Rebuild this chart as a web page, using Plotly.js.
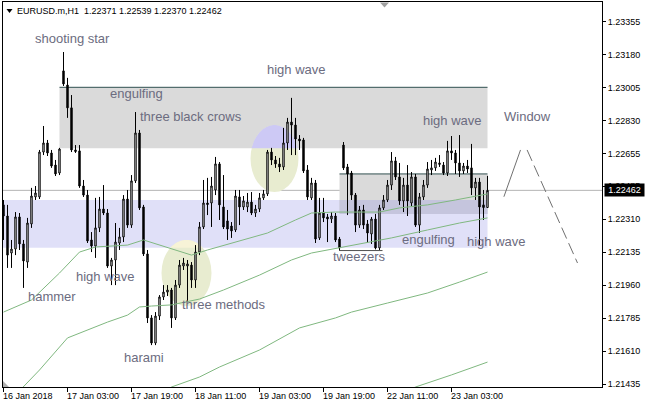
<!DOCTYPE html>
<html>
<head>
<meta charset="utf-8">
<script src="https://cdn.plot.ly/plotly-3.0.1.min.js"></script>
<style>html,body{margin:0;padding:0;background:#fff;}#chart{width:645px;height:408px;}</style>
</head>
<body>
<div id="chart"></div>
<script>
// ---- DATA (EURUSD.m, H1) ----
const symbolName = "EURUSD.m,H1";
const opens = [1.22385,1.22326,1.22130,1.22151,1.22321,1.22178,1.22082,1.22284,1.22427,1.22427,
1.22665,1.22713,1.22660,1.22596,1.22554,1.23095,1.23020,1.22899,1.22676,1.22671,
1.22485,1.22437,1.22199,1.22167,1.22263,1.22363,1.22342,1.22061,1.22093,1.22183,
1.22215,1.22416,1.22278,1.22512,1.22766,1.22374,1.22125,1.21786,1.21653,1.21796,
1.21897,1.21923,1.21934,1.21786,1.21960,1.22061,1.22061,1.22066,1.21987,1.22135,
1.22268,1.22395,1.22395,1.22464,1.22602,1.22374,1.22300,1.22273,1.22252,1.22427,
1.22374,1.22374,1.22400,1.22342,1.22363,1.22422,1.22443,1.22665,1.22623,1.22602,
1.22586,1.22713,1.22824,1.22808,1.22734,1.22729,1.22570,1.22422,1.22501,1.22210,
1.22347,1.22321,1.22310,1.22326,1.22204,1.22702,1.22586,1.22554,1.22437,1.22278,
1.22358,1.22284,1.22231,1.22310,1.22157,1.22369,1.22411,1.22490,1.22618,1.22533,
1.22406,1.22490,1.22395,1.22533,1.22278,1.22427,1.22490,1.22570,1.22581,1.22599,
1.22596,1.22554,1.22671,1.22660,1.22607,1.22565,1.22591,1.22581,1.22475,1.22506,
1.22385,1.22371];
const highs = [1.22411,1.22385,1.22199,1.22347,1.22342,1.22199,1.22316,1.22475,1.22485,1.22676,
1.22803,1.22729,1.22676,1.22623,1.22687,1.23195,1.23058,1.22967,1.22702,1.22702,
1.22517,1.22464,1.22241,1.22422,1.22427,1.22490,1.22363,1.22104,1.22289,1.22263,
1.22437,1.22464,1.22543,1.22877,1.22782,1.22385,1.22146,1.21801,1.21817,1.21907,
1.21960,1.21960,1.21945,1.21987,1.22093,1.22104,1.22093,1.22082,1.22172,1.22294,
1.22517,1.22528,1.22533,1.22639,1.22612,1.22543,1.22358,1.22294,1.22464,1.22464,
1.22432,1.22448,1.22453,1.22385,1.22448,1.22464,1.22676,1.22687,1.22644,1.22634,
1.22793,1.22846,1.22952,1.22846,1.22755,1.22740,1.22596,1.22528,1.22517,1.22422,
1.22422,1.22337,1.22347,1.22342,1.22215,1.22718,1.22602,1.22565,1.22448,1.22379,
1.22385,1.22305,1.22321,1.22337,1.22385,1.22437,1.22517,1.22665,1.22639,1.22607,
1.22528,1.22596,1.22559,1.22549,1.22448,1.22517,1.22612,1.22623,1.22634,1.22649,
1.22612,1.22724,1.22750,1.22676,1.22755,1.22607,1.22623,1.22708,1.22528,1.22528,
1.22464,1.22539];
const lows = [1.22199,1.22051,1.22051,1.22119,1.22146,1.21945,1.22051,1.22263,1.22411,1.22416,
1.22649,1.22644,1.22581,1.22538,1.22543,1.23015,1.22846,1.22665,1.22660,1.22475,
1.22427,1.22183,1.22135,1.22104,1.22241,1.22331,1.22051,1.21960,1.21960,1.22146,
1.22188,1.22263,1.22263,1.22501,1.22358,1.22114,1.21759,1.21642,1.21642,1.21775,
1.21881,1.21902,1.21733,1.21775,1.21945,1.22040,1.21870,1.21945,1.21945,1.22119,
1.22257,1.22331,1.22268,1.22437,1.22305,1.22257,1.22199,1.22210,1.22241,1.22278,
1.22358,1.22347,1.22331,1.22321,1.22347,1.22411,1.22432,1.22596,1.22581,1.22559,
1.22570,1.22676,1.22649,1.22649,1.22676,1.22554,1.22411,1.22411,1.22183,1.22199,
1.22294,1.22188,1.22289,1.22188,1.22143,1.22570,1.22331,1.22411,1.22241,1.22263,
1.22257,1.22183,1.22178,1.22149,1.22146,1.22358,1.22400,1.22464,1.22517,1.22385,
1.22347,1.22326,1.22379,1.22268,1.22236,1.22411,1.22475,1.22543,1.22565,1.22586,
1.22543,1.22538,1.22623,1.22549,1.22533,1.22549,1.22554,1.22437,1.22411,1.22172,
1.22305,1.22370];
const closes = [1.22326,1.22119,1.22151,1.22321,1.22178,1.22088,1.22289,1.22432,1.22448,1.22665,
1.22713,1.22660,1.22591,1.22549,1.22681,1.23026,1.22899,1.22676,1.22668,1.22485,
1.22437,1.22194,1.22167,1.22263,1.22363,1.22342,1.22061,1.22093,1.22188,1.22215,
1.22416,1.22278,1.22512,1.22766,1.22369,1.22125,1.21786,1.21653,1.21796,1.21897,
1.21923,1.21934,1.21786,1.21960,1.22066,1.22077,1.22072,1.21987,1.22135,1.22268,
1.22395,1.22387,1.22485,1.22602,1.22385,1.22268,1.22257,1.22247,1.22432,1.22374,
1.22406,1.22400,1.22342,1.22363,1.22422,1.22443,1.22665,1.22623,1.22602,1.22586,
1.22713,1.22824,1.22808,1.22734,1.22724,1.22565,1.22427,1.22501,1.22204,1.22342,
1.22316,1.22310,1.22326,1.22199,1.22157,1.22581,1.22549,1.22437,1.22278,1.22358,
1.22278,1.22236,1.22310,1.22157,1.22369,1.22411,1.22490,1.22618,1.22533,1.22406,
1.22490,1.22406,1.22533,1.22278,1.22427,1.22490,1.22575,1.22581,1.22612,1.22607,
1.22554,1.22671,1.22660,1.22607,1.22565,1.22591,1.22575,1.22475,1.22506,1.22374,
1.22371,1.22462];

// moving averages (read at sampled bars)
const ma1Bars = [0,7,14,19,23,31,35,41,47,51,58,66,73,77,83,94,99,106,113,121];
const ma1Vals = [1.21817,1.21881,1.22024,1.22135,1.22162,1.22172,1.22199,1.22157,1.22119,1.22146,
1.22188,1.22236,1.22305,1.22342,1.22347,1.22347,1.22369,1.22385,1.22411,1.22443];
const ma2Bars = [3,9,16,21,26,31,34,37,42,49,55,64,72,77,82,89,97,106,114,121];
const ma2Vals = [1.21378,1.21510,1.21680,1.21722,1.21764,1.21801,1.21844,1.21849,1.21855,1.21886,
1.21934,1.22013,1.22093,1.22130,1.22151,1.22178,1.22210,1.22252,1.22289,1.22316];
const ma3Bars = [40,42,49,54,64,74,83,87,96,106,114,121];
const ma3Vals = [1.21393,1.21420,1.21473,1.21526,1.21616,1.21733,1.21786,1.21817,1.21865,1.21918,1.21976,1.22029];
const ma4Bars = [100,103,112,121];
const ma4Vals = [1.21393,1.21420,1.21484,1.21552];

// axis labels
const timeTickBars = [0,16,32,48,64,80,96,112];
const timeTickLabels = ["16 Jan 2018","17 Jan 03:00","17 Jan 19:00","18 Jan 11:00","19 Jan 03:00","19 Jan 19:00","22 Jan 11:00","23 Jan 03:00"];
const priceTicks = [1.23355,1.23180,1.23005,1.22830,1.22655,1.22485,1.22310,1.22135,1.21960,1.21785,1.21610,1.21435];

// pattern labels: [text, bar, price]
const labelTexts = ["shooting star","engulfing","three black crows","high wave","high wave","Window","high wave","hammer","harami","three methods","tweezers","engulfing","high wave"];
const labelBars  = [8,26.75,34.25,66,105,125.25,18.25,6.25,30.25,44.75,82.5,99.75,116];
const labelPrices= [1.23264,1.22975,1.22851,1.23100,1.22830,1.22851,1.22003,1.21897,1.21574,1.21857,1.22109,1.22202,1.22191];

// ---- STYLE / GEOMETRY ----
const AXFONT = "'Liberation Sans',Arial,sans-serif";
const SANS = "'Liberation Sans',Arial,sans-serif";
const AXSIZE = 9;
const labelColor = "#6c6c80";
const maColor = "#80b880";
const plotL = 3, plotR = 602, plotT = 2, plotB = 387;
const px2paperX = p => (p - plotL) / (plotR - plotL);
const px2paperY = p => (plotB - p) / (plotB - plotT);

const barIdx = opens.map((_, i) => i);
const last = opens.length - 1;

const grayRect = {x0: 14, x1: 121, y0: 1.22685, y1: 1.23008};
const lavRect = {x0: -0.2, x1: 121, y0: 1.22158, y1: 1.22411};
const grayRect2 = {x0: 84, x1: 121, y0: 1.22337, y1: 1.22549};
const ellA = {x0: 39.5, x1: 52, y0: 1.21849, y1: 1.22199};
const ellB = {x0: 61.75, x1: 73.75, y0: 1.22453, y1: 1.22808};

function ellipseCap(e, cut) {
  const cx = (e.x0 + e.x1) / 2, cy = (e.y0 + e.y1) / 2;
  const rx = (e.x1 - e.x0) / 2, ry = (e.y1 - e.y0) / 2;
  const t0 = Math.asin(Math.max(-1, Math.min(1, (cut - cy) / ry)));
  let d = '';
  const n = 48;
  for (let k = 0; k <= n; k++) {
    const t = t0 + (Math.PI - 2 * t0) * k / n;
    const x = cx + rx * Math.cos(t), y = cy + ry * Math.sin(t);
    d += (k === 0 ? 'M' : 'L') + x.toFixed(4) + ',' + y.toFixed(6) + ' ';
  }
  return d + 'Z';
}

const shapes = [
  {type:'rect', xref:'x', yref:'y', x0:grayRect.x0, x1:grayRect.x1, y0:grayRect.y0, y1:grayRect.y1, fillcolor:'#dadada', line:{width:0}, layer:'below'},
  {type:'rect', xref:'x', yref:'y', x0:lavRect.x0, x1:lavRect.x1, y0:lavRect.y0, y1:lavRect.y1, fillcolor:'#e0e0f8', line:{width:0}, layer:'below'},
  {type:'rect', xref:'x', yref:'y', x0:grayRect2.x0, x1:grayRect2.x1, y0:grayRect2.y0, y1:grayRect2.y1, fillcolor:'#dadada', line:{width:0}, layer:'below'},
  {type:'rect', xref:'x', yref:'y', x0:grayRect2.x0, x1:grayRect2.x1, y0:grayRect2.y0, y1:lavRect.y1, fillcolor:'#c5c5dd', line:{width:0}, layer:'below'},
  {type:'circle', xref:'x', yref:'y', x0:ellA.x0, x1:ellA.x1, y0:ellA.y0, y1:ellA.y1, fillcolor:'#e8ecd0', line:{width:0}, layer:'below'},
  {type:'path', xref:'x', yref:'y', path: ellipseCap(ellA, lavRect.y0), fillcolor:'#f7f3d7', line:{width:0}, layer:'below'},
  {type:'circle', xref:'x', yref:'y', x0:ellB.x0, x1:ellB.x1, y0:ellB.y0, y1:ellB.y1, fillcolor:'#e8ecd0', line:{width:0}, layer:'below'},
  {type:'path', xref:'x', yref:'y', path: ellipseCap(ellB, grayRect.y0), fillcolor:'#cdc9f5', line:{width:0}, layer:'below'},
  {type:'line', xref:'x', yref:'y', x0:grayRect.x0, x1:grayRect.x1, y0:grayRect.y1, y1:grayRect.y1, line:{color:'#2f4f4f', width:1}, layer:'below'},
  {type:'line', xref:'x', yref:'y', x0:grayRect2.x0, x1:grayRect2.x1, y0:grayRect2.y1, y1:grayRect2.y1, line:{color:'#2f4f4f', width:1}, layer:'below'},
  {type:'line', xref:'x', yref:'y', x0:84, x1:94.75, y0:1.22143, y1:1.22143, line:{color:'#505050', width:1}, layer:'below'},
  {type:'line', xref:'paper', yref:'y', x0:0, x1:1, y0:closes[last], y1:closes[last], line:{color:'#b4b4b4', width:1}, layer:'below'},
  {type:'line', xref:'x', yref:'y', x0:125.1, y0:1.22428, x1:129.25, y1:1.22676, line:{color:'#707070', width:1}},
  {type:'line', xref:'x', yref:'y', x0:130.9, y0:1.22676, x1:143.5, y1:1.22077, line:{color:'#707070', width:1, dash:'12px,5px'}},
  {type:'path', xref:'paper', yref:'paper', path:`M${px2paperX(6.5)},${px2paperY(9)} L${px2paperX(12.5)},${px2paperY(9)} L${px2paperX(9.5)},${px2paperY(13)} Z`, fillcolor:'#000', line:{width:0}},
  {type:'path', xref:'paper', yref:'paper', path:`M${px2paperX(380)},${px2paperY(2.5)} L${px2paperX(389)},${px2paperY(2.5)} L${px2paperX(384.5)},${px2paperY(7.5)} Z`, fillcolor:'#a0a0a0', line:{width:0}},
  {type:'path', xref:'paper', yref:'paper', path:`M${px2paperX(3)},${px2paperY(381)} L${px2paperX(3)},${px2paperY(387)} L${px2paperX(9)},${px2paperY(387)} Z`, fillcolor:'#b0b0b0', line:{width:0}}
];

const annotations = [];
labelTexts.forEach((t, i) => {
  annotations.push({xref:'x', yref:'y', x:labelBars[i], y:labelPrices[i], text:t, showarrow:false,
    xanchor:'left', yanchor:'middle', xshift:-2, font:{family:SANS, size:13, color:labelColor}, borderpad:0});
});
timeTickBars.forEach((b, i) => {
  annotations.push({xref:'x', yref:'paper', x:b, y:0, text:timeTickLabels[i], showarrow:false,
    xanchor:'left', yanchor:'top', xshift:-2, yshift:-3, font:{family:AXFONT, size:AXSIZE, color:'#000'}, borderpad:0});
});
annotations.push({xref:'paper', yref:'paper', x:px2paperX(16), y:px2paperY(11),
  text:`${symbolName}\u00a0\u00a0${opens[last].toFixed(5)} ${highs[last].toFixed(5)} ${lows[last].toFixed(5)} ${closes[last].toFixed(5)}`,
  showarrow:false, xanchor:'left', yanchor:'middle', font:{family:AXFONT, size:AXSIZE, color:'#000'}, borderpad:0});
annotations.push({xref:'paper', yref:'y', x:1, y:closes[last], text:closes[last].toFixed(5), showarrow:false,
  xanchor:'left', yanchor:'middle', xshift:2, width:39, height:12, align:'center', bgcolor:'#000',
  font:{family:AXFONT, size:AXSIZE, color:'#fff'}, borderpad:0});

const traces = [
  {type:'candlestick', x:barIdx, open:opens, high:highs, low:lows, close:closes,
   increasing:{line:{color:'#000', width:1}, fillcolor:'#fff'},
   decreasing:{line:{color:'#000', width:1}, fillcolor:'#000'},
   whiskerwidth:0, hoverinfo:'skip', showlegend:false},
  {type:'scatter', mode:'lines', x:ma1Bars, y:ma1Vals, line:{color:maColor, width:1}, hoverinfo:'skip', showlegend:false},
  {type:'scatter', mode:'lines', x:ma2Bars, y:ma2Vals, line:{color:maColor, width:1}, hoverinfo:'skip', showlegend:false},
  {type:'scatter', mode:'lines', x:ma3Bars, y:ma3Vals, line:{color:maColor, width:1}, hoverinfo:'skip', showlegend:false},
  {type:'scatter', mode:'lines', x:ma4Bars, y:ma4Vals, line:{color:maColor, width:1}, hoverinfo:'skip', showlegend:false}
];

const layout = {
  width:645, height:408,
  margin:{l:plotL, r:645-plotR, t:plotT, b:408-plotB, pad:0},
  paper_bgcolor:'#fff', plot_bgcolor:'#fff', showlegend:false,
  boxgap:0.5,
  xaxis:{range:[-0.125,149.625], showgrid:false, zeroline:false, showline:true, mirror:true, linecolor:'#000', linewidth:1,
    ticks:'outside', ticklen:4, tickcolor:'#000', tickvals:timeTickBars, showticklabels:false,
    rangeslider:{visible:false}, fixedrange:true},
  yaxis:{range:[1.21420,1.23460], side:'right', showgrid:false, zeroline:false, showline:true, mirror:true,
    linecolor:'#000', linewidth:1, ticks:'outside', ticklen:3, tickcolor:'#000',
    tickvals:priceTicks, ticktext:priceTicks.map(v => v.toFixed(5)),
    tickfont:{family:AXFONT, size:AXSIZE, color:'#000'}, fixedrange:true},
  shapes:shapes, annotations:annotations
};

Plotly.newPlot('chart', traces, layout, {staticPlot:true, displayModeBar:false});
</script>
</body>
</html>
